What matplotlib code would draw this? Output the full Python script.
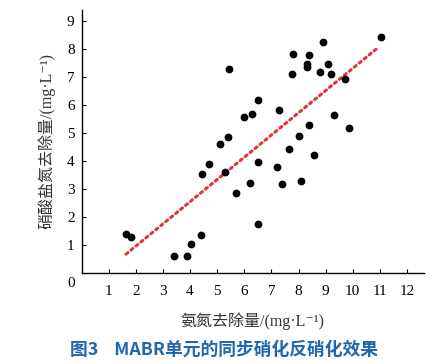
import numpy as np
import matplotlib.pyplot as plt

plt.rcParams['font.family'] = ['Liberation Serif', 'Noto Sans CJK SC', 'DejaVu Serif']

# datos: NH4-N removido vs NO3-N removido (mg/L)
nh4 = [1.64, 1.81, 3.40, 3.89, 4.02, 4.39, 4.45, 4.69, 5.09, 5.29,
       5.39, 5.44, 5.68, 6.00, 6.20, 6.28, 6.49, 6.49, 6.49, 7.20,
       7.29, 7.38, 7.65, 7.77, 7.81, 8.03, 8.10, 8.30, 8.30, 8.40,
       8.40, 8.56, 8.79, 8.89, 9.10, 9.20, 9.30, 9.70, 9.87, 11.03]
no3 = [1.39, 1.27, 0.61, 0.61, 1.04, 1.36, 3.54, 3.88, 4.60, 3.59,
       4.84, 7.29, 2.85, 5.56, 3.22, 5.68, 6.17, 3.95, 1.73, 3.79,
       5.83, 3.17, 4.42, 7.11, 7.83, 4.88, 3.27, 7.45, 7.35, 7.80,
       5.29, 4.20, 7.17, 8.25, 7.45, 7.12, 5.63, 6.94, 5.18, 8.43]

# recta de tendencia
fit_x = [1.64, 10.97]
slope, intercept = 0.795, -0.644

xticks = np.arange(1, 13, 1)
yticks = np.arange(1, 10, 1)

w, h = 4.48, 3.64
fig = plt.figure(figsize=(w, h), dpi=100)
ax = fig.add_axes([0.182, 0.251, 0.764, 0.722])

fx = np.array(fit_x)
ax.plot(fx, slope*fx + intercept, linestyle=(0, (0.8, 1.3)), linewidth=2.2,
        color='#e0353b', dash_capstyle='round', zorder=2)
ax.plot(nh4, no3, 'o', color='black', markersize=4.6, zorder=3)

ax.set_xlim(0, 12.62)
ax.set_ylim(0, 9.4)
ax.set_xticks(xticks)
ax.set_yticks(yticks)
ax.spines['top'].set_visible(False)
ax.spines['right'].set_visible(False)
for s in ['left', 'bottom']:
    ax.spines[s].set_linewidth(1.0)
ax.tick_params(direction='in', length=3, width=0.8, labelsize=11)
ax.tick_params(axis='x', pad=9)
ax.tick_params(axis='y', pad=5)
ax.annotate('0', xy=(0, 0), xytext=(-4.5, -8), textcoords='offset points',
            ha='right', va='center', fontsize=11)

ax.set_xlabel('氨氮去除量/(mg·L⁻¹)', fontsize=11.5, labelpad=10, color='#333333')
ax.set_ylabel('硝酸盐氮去除量/(mg·L⁻¹)', fontsize=11.5, labelpad=8, color='#333333')

fig.text(0.5, 0.038, '图3    MABR单元的同步硝化反硝化效果', ha='center', va='center',
         fontsize=12.8, fontweight='bold', color='#2166b0',
         family=['Noto Sans CJK SC', 'DejaVu Sans'])

fig.savefig('out.png', dpi=100)
